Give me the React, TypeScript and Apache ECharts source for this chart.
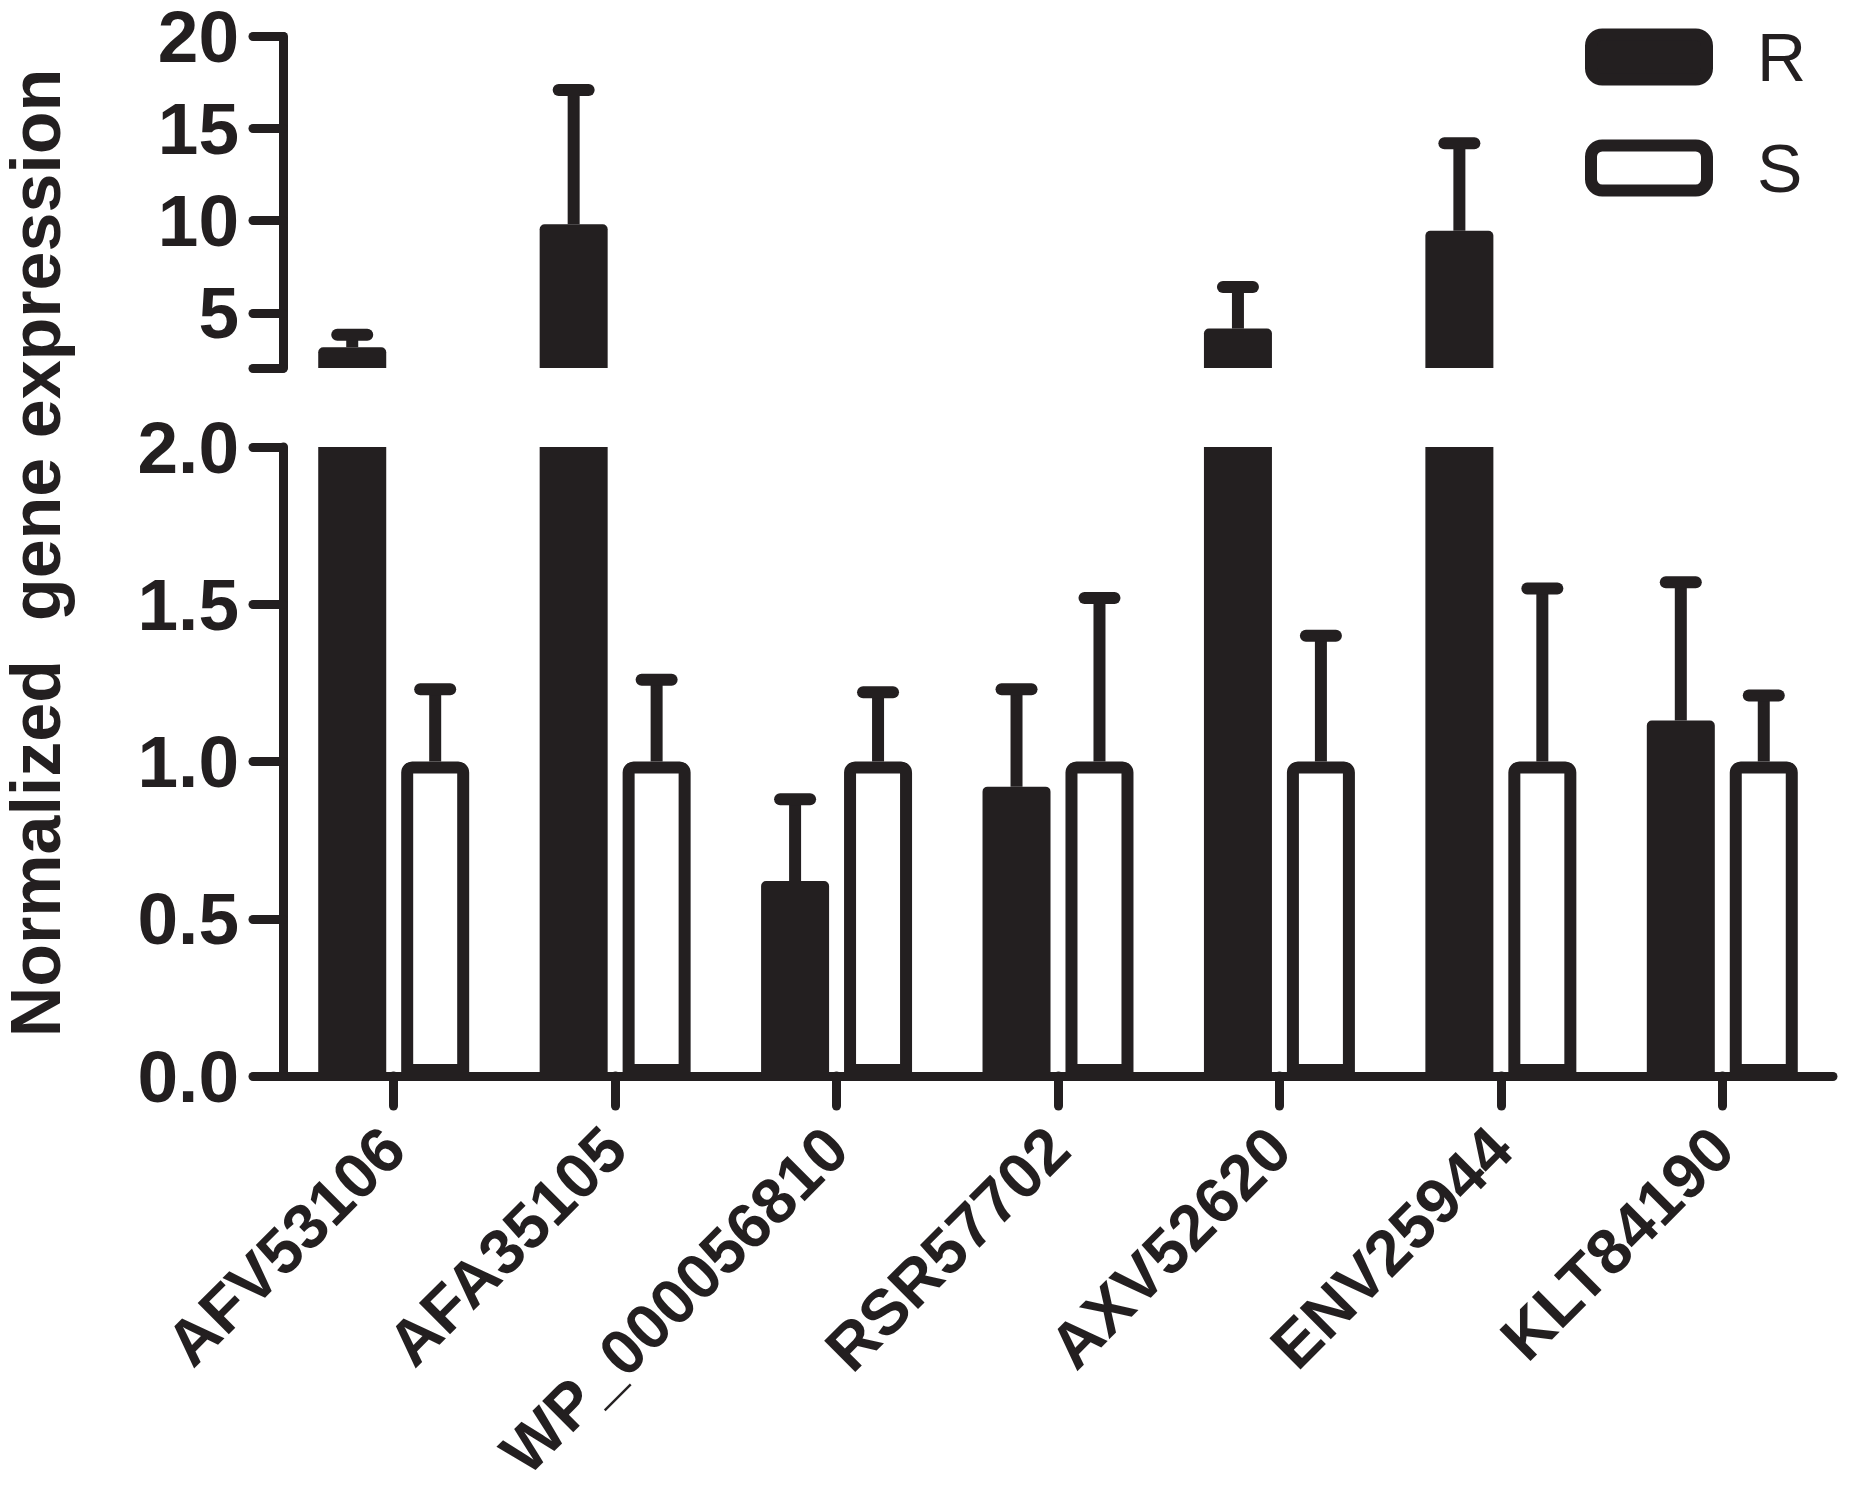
import React, { useEffect, useRef } from "react";
import * as echarts from "echarts";

const categories = ["AFV53106", "AFA35105", "WP_000056810", "RSR57702", "AXV52620", "ENV25944", "KLT84190"];
const seriesNames = ["R", "S"];
const rMean = [3.13, 9.8, 0.62, 0.92, 4.14, 9.45, 1.13];
const rSD = [0.67, 7.3, 0.26, 0.31, 2.26, 4.75, 0.44];
const sMean = [1.0, 1.0, 1.0, 1.0, 1.0, 1.0, 1.0];
const sSD = [0.23, 0.26, 0.22, 0.52, 0.4, 0.55, 0.21];
const upperTicks = [2, 5, 10, 15, 20];
const upperLabels = [5, 10, 15, 20];
const lowerTicks = [0, 0.5, 1, 1.5, 2];
const yTitle = "Normalized  gene expression";

const C = "#231f20";
const FONT = '"Liberation Sans", Arial, Helvetica, sans-serif';
const BAR_W = 68;
const BAR_GAP = 0.22;
const BORDER = 12;
const OFFSET = (BAR_W + BAR_W * BAR_GAP) / 2;
const LOWER_MAX = 2;
const UPPER_MIN = 2;

function buildOption() {
  const lowerR = rMean.map((v) =>
    v > LOWER_MAX ? { value: v, itemStyle: { borderRadius: 0 } } : v
  );
  const upperR = rMean.map((v) => (v > UPPER_MIN ? v : "-"));
  const upperS = sMean.map((v) => (v > UPPER_MIN ? v : "-"));

  const errLower: number[][] = [];
  const errUpper: number[][] = [];
  rMean.forEach((m, i) => {
    const top = m + rSD[i];
    if (m > LOWER_MAX) errUpper.push([i, m, top, -1]);
    else errLower.push([i, m, top, -1]);
  });
  sMean.forEach((m, i) => {
    const top = m + sSD[i];
    if (m > LOWER_MAX) errUpper.push([i, m, top, 1]);
    else errLower.push([i, m, top, 1]);
  });

  const renderErr = (params: any, api: any) => {
    const i = api.value(0);
    const mean = api.value(1);
    const top = api.value(2);
    const side = api.value(3);
    const p0 = api.coord([i, mean]);
    const p1 = api.coord([i, top]);
    const x = p0[0] + side * OFFSET;
    return {
      type: "group",
      children: [
        {
          type: "line",
          shape: { x1: x, y1: p0[1], x2: x, y2: p1[1] },
          style: { stroke: C, lineWidth: 12 },
        },
        {
          type: "line",
          shape: { x1: x - 15, y1: p1[1], x2: x + 15, y2: p1[1] },
          style: { stroke: C, lineWidth: 12, lineCap: "round" },
        },
      ],
    };
  };

  const axisLineStyle = { color: C, width: 9, cap: "round" };
  const yLabel = {
    fontSize: 73,
    lineHeight: 56,
    fontWeight: "bold",
    color: C,
    fontFamily: FONT,
    margin: 44,
  };

  const barCommon = {
    type: "bar",
    barWidth: BAR_W,
    barGap: BAR_GAP * 100 + "%",
    clip: true,
  };
  const rStyle = { color: C, borderWidth: 0, borderRadius: [5, 5, 0, 0] };
  const sStyle = { color: "#ffffff", borderColor: C, borderWidth: BORDER, borderRadius: [5, 5, 0, 0] };

  return {
    animation: false,
    backgroundColor: "#ffffff",
    grid: [
      { left: 283, top: 32, width: 1550, height: 336 },
      { left: 283, top: 447, width: 1550, height: 629 },
    ],
    legend: {
      data: seriesNames,
      orient: "vertical",
      left: 1585,
      top: 23,
      padding: 0,
      itemWidth: 116,
      itemHeight: 45,
      itemGap: 43,
      icon: "roundRect",
      selectedMode: false,
      itemStyle: { borderWidth: BORDER, borderColor: C },
      textStyle: {
        fontSize: 68,
        color: C,
        fontFamily: FONT,
        lineHeight: 43,
        padding: [0, 0, 0, 45],
      },
    },
    xAxis: [
      {
        gridIndex: 0,
        type: "category",
        data: categories,
        show: false,
      },
      {
        gridIndex: 1,
        type: "category",
        data: categories,
        axisLine: { show: true, lineStyle: axisLineStyle },
        axisTick: {
          show: true,
          alignWithLabel: true,
          length: 30,
          lineStyle: axisLineStyle,
        },
        axisLabel: {
          interval: 0,
          rotate: 45,
          margin: 62,
          fontSize: 64,
          fontWeight: "bold",
          color: C,
          fontFamily: FONT,
        },
        splitLine: { show: false },
      },
    ],
    yAxis: [
      {
        gridIndex: 0,
        type: "value",
        min: UPPER_MIN,
        max: 20,
        axisLine: { show: true, lineStyle: axisLineStyle },
        axisTick: {
          show: true,
          length: 30,
          customValues: upperTicks,
          lineStyle: axisLineStyle,
        },
        axisLabel: { ...yLabel, customValues: upperLabels },
        splitLine: { show: false },
      },
      {
        gridIndex: 1,
        type: "value",
        min: 0,
        max: LOWER_MAX,
        interval: 0.5,
        axisLine: { show: true, lineStyle: axisLineStyle },
        axisTick: {
          show: true,
          length: 30,
          customValues: lowerTicks,
          lineStyle: axisLineStyle,
        },
        axisLabel: {
          ...yLabel,
          customValues: lowerTicks,
          formatter: (v: number) => v.toFixed(1),
        },
        splitLine: { show: false },
      },
    ],
    graphic: [
      {
        type: "text",
        x: 36,
        y: 553,
        rotation: Math.PI / 2,
        style: {
          text: yTitle,
          fill: C,
          font: `bold 70px ${FONT}`,
          lineHeight: 58,
          textAlign: "center",
          textVerticalAlign: "middle",
        },
      },
    ],
    series: [
      {
        ...barCommon,
        name: "R",
        xAxisIndex: 1,
        yAxisIndex: 1,
        data: lowerR,
        itemStyle: rStyle,
      },
      {
        ...barCommon,
        name: "S",
        xAxisIndex: 1,
        yAxisIndex: 1,
        data: sMean,
        itemStyle: sStyle,
      },
      {
        ...barCommon,
        name: "R",
        xAxisIndex: 0,
        yAxisIndex: 0,
        data: upperR,
        itemStyle: rStyle,
      },
      {
        ...barCommon,
        name: "S",
        xAxisIndex: 0,
        yAxisIndex: 0,
        data: upperS,
        itemStyle: sStyle,
      },
      {
        type: "custom",
        name: "errLower",
        xAxisIndex: 1,
        yAxisIndex: 1,
        data: errLower,
        encode: { x: 0, y: [1, 2] },
        renderItem: renderErr,
        z: 3,
      },
      {
        type: "custom",
        name: "errUpper",
        xAxisIndex: 0,
        yAxisIndex: 0,
        data: errUpper,
        encode: { x: 0, y: [1, 2] },
        renderItem: renderErr,
        z: 3,
      },
    ],
  };
}

export default function App() {
  const ref = useRef<HTMLDivElement>(null);
  useEffect(() => {
    if (!ref.current) return;
    const chart = echarts.init(ref.current, undefined, { renderer: "svg" });
    chart.setOption(buildOption() as any);
    return () => chart.dispose();
  }, []);
  return (
    <div
      ref={ref}
      style={{ position: "absolute", left: 0, top: 0, width: 1850, height: 1503, background: "#fff" }}
    />
  );
}
